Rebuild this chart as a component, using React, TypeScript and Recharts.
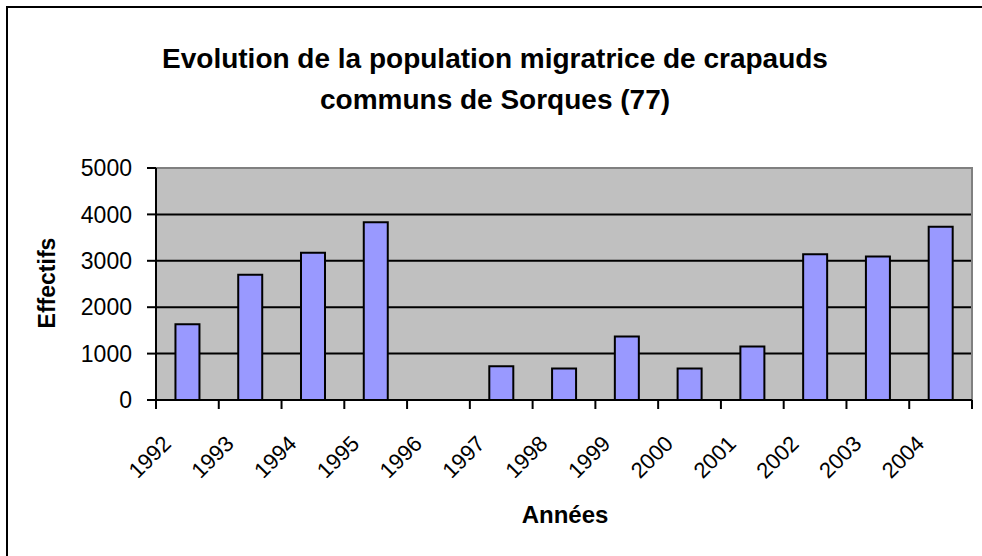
import { BarChart, Bar, XAxis, YAxis, CartesianGrid, ReferenceArea } from "recharts";

const years = ["1992", "1993", "1994", "1995", "1996", "1997", "1998", "1999", "2000", "2001", "2002", "2003", "2004"];
const effectifs: (number | null)[] = [1630, 2700, 3175, 3830, null, 725, 680, 1370, 680, 1155, 3140, 3090, 3735];
const yTicks = [0, 1000, 2000, 3000, 4000, 5000];

const data = years.map((year, i) => ({ year, effectifs: effectifs[i] }));

const W = 982;
const H = 556;
const PLOT_LEFT = 156;
const PLOT_RIGHT = 972;
const PLOT_TOP = 168;
const PLOT_BOTTOM = 400;
const BAND = (PLOT_RIGHT - PLOT_LEFT) / years.length;

const font = "Arial, 'Liberation Sans', sans-serif";

function YearTick(props: any) {
  const { x, y, payload, index } = props;
  const left = x - BAND / 2;
  return (
    <g>
      <line x1={left} y1={y} x2={left} y2={y + 9} stroke="#000" strokeWidth={2} />
      {index === years.length - 1 && (
        <line x1={x + BAND / 2} y1={y} x2={x + BAND / 2} y2={y + 9} stroke="#000" strokeWidth={2} />
      )}
      <text
        x={x - 15}
        y={y + 45}
        textAnchor="end"
        transform={`rotate(-45, ${x - 15}, ${y + 45})`}
        fontSize={22}
        fontFamily={font}
        fill="#000"
      >
        {payload.value}
      </text>
    </g>
  );
}

export default function App() {
  return (
    <div style={{ position: "relative", width: W, height: H, background: "#fff" }}>
      <style>{"body{margin:0}"}</style>
      <div
        style={{
          position: "absolute",
          left: 6,
          top: 6,
          right: 0,
          bottom: 0,
          borderLeft: "2px solid #000",
          borderTop: "2px solid #000",
        }}
      />
      <BarChart
        width={W}
        height={H}
        data={data}
        margin={{ top: PLOT_TOP, right: W - PLOT_RIGHT, left: 0, bottom: 0 }}
        barCategoryGap="31%"
        style={{ position: "absolute", left: 0, top: 0 }}
      >
        <CartesianGrid
          vertical={false}
          horizontalValues={[1000, 2000, 3000, 4000]}
          stroke="#000"
          strokeWidth={2}
          fill="#C0C0C0"
          fillOpacity={1}
        />
        <ReferenceArea y1={0} y2={5000} fill="none" stroke="#808080" strokeWidth={2} ifOverflow="visible" />
        <XAxis
          dataKey="year"
          height={H - PLOT_BOTTOM}
          axisLine={{ stroke: "#000", strokeWidth: 2 }}
          tickLine={false}
          tickSize={0}
          tickMargin={0}
          interval={0}
          tick={<YearTick />}
        />
        <YAxis
          width={PLOT_LEFT}
          domain={[0, 5000]}
          ticks={yTicks}
          axisLine={{ stroke: "#000", strokeWidth: 2 }}
          tickLine={{ stroke: "#000", strokeWidth: 2 }}
          tickSize={9}
          tickMargin={15}
          tick={{ fontSize: 23, fill: "#000", fontFamily: font }}
        />
        <Bar dataKey="effectifs" fill="#9999FF" stroke="#000" strokeWidth={2} isAnimationActive={false} />
      </BarChart>
      <svg width={W} height={H} style={{ position: "absolute", left: 0, top: 0, pointerEvents: "none" }}>
        <text x={495} y={68} textAnchor="middle" fontSize={28} fontWeight="bold" fontFamily={font}>
          Evolution de la population migratrice de crapauds
        </text>
        <text x={495} y={109} textAnchor="middle" fontSize={28} fontWeight="bold" fontFamily={font}>
          communs de Sorques (77)
        </text>
        <text
          x={47}
          y={283}
          dy="0.35em"
          textAnchor="middle"
          transform="rotate(-90, 47, 283)"
          fontSize={23}
          fontWeight="bold"
          fontFamily={font}
        >
          Effectifs
        </text>
        <text x={565} y={523} textAnchor="middle" fontSize={24} fontWeight="bold" fontFamily={font}>
          Années
        </text>
      </svg>
    </div>
  );
}
